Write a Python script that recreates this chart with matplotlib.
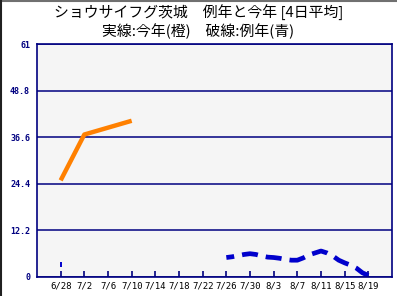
import matplotlib
matplotlib.use('Agg')
import matplotlib.pyplot as plt
from matplotlib.lines import Line2D

plt.rcParams['font.family'] = ['Noto Sans CJK JP', 'DejaVu Sans']
plt.rcParams['lines.scale_dashes'] = False

# days counted from 6/28
tick_days = [0, 4, 8, 12, 16, 20, 24, 28, 32, 36, 40, 44, 48, 52]
tick_labels = ['6/28', '7/2', '7/6', '7/10', '7/14', '7/18', '7/22',
               '7/26', '7/30', '8/3', '8/7', '8/11', '8/15', '8/19']
y_ticks = [0, 12.2, 24.4, 36.6, 48.8, 61]
y_labels = ['0', '12.2', '24.4', '36.6', '48.8', '61']

# this year (solid, orange)
this_days = [0, 4, 8, 12]
this_vals = [25.3, 37.3, 39.1, 40.9]

# normal year (dashed, blue)
norm_days = [28, 29, 30, 31, 32, 33, 34, 35, 36, 37, 38, 39, 40,
             41, 42, 43, 44, 45, 46, 47, 48, 49, 50, 51, 52]
norm_vals = [5.1, 5.3, 5.6, 5.9, 6.1, 5.9, 5.5, 5.2, 5.1, 4.9, 4.6, 4.4, 4.4,
             5.0, 5.8, 6.3, 6.8, 6.3, 5.5, 4.4, 3.7, 3.1, 2.3, 1.1, 0.4]
# lone short mark at 6/28
mark_days = [0, 0]
mark_vals = [2.6, 3.8]

navy = '#000080'

fig = plt.figure(figsize=(3.97, 2.96), dpi=100)
ax = fig.add_axes([37 / 397, 19 / 296, 355 / 397, 233 / 296])
ax.set_facecolor('#f5f5f5')
ax.set_xlim(-4, 56)
ax.set_ylim(0, 61)
for s in ax.spines.values():
    s.set_color(navy)
    s.set_linewidth(1.2)

ax.set_yticks(y_ticks)
ax.set_yticklabels(y_labels, family='DejaVu Sans Mono', weight='bold')
ax.set_xticks(tick_days)
ax.set_xticklabels(tick_labels, family='DejaVu Sans Mono')
ax.grid(axis='y', color=navy, lw=1.1)
ax.set_axisbelow(True)
ax.tick_params(axis='y', length=0, pad=5, labelcolor=navy, labelsize=6)
ax.tick_params(axis='x', direction='in', length=4, width=1.2, color=navy,
               labelsize=6.5, pad=3, labelcolor='black')

ax.plot(this_days, this_vals, color='#ff8000', lw=3.2, solid_capstyle='butt')
ax.plot(norm_days, norm_vals, color='#0000cc', lw=3.4,
        linestyle=(5.8, (11.5, 5.8)), dash_capstyle='butt')
ax.plot(mark_days, mark_vals, color='#0000cc', lw=1.4, solid_capstyle='butt')

fig.text(0.5, 1 - 13 / 296, 'ショウサイフグ茨城　例年と今年 [4日平均]',
         ha='center', va='center', fontsize=10.7)
fig.text(0.5, 1 - 31 / 296, '実線:今年(橙)　破線:例年(青)',
         ha='center', va='center', fontsize=10.7)

# sunken frame on the top and left edges
fig.add_artist(Line2D([0, 1], [0.998, 0.998], color='#707070', lw=1.5,
                      transform=fig.transFigure))
fig.add_artist(Line2D([0.002, 0.002], [0, 1], color='#202020', lw=1.5,
                      transform=fig.transFigure))

fig.savefig('out.png', dpi=100)
